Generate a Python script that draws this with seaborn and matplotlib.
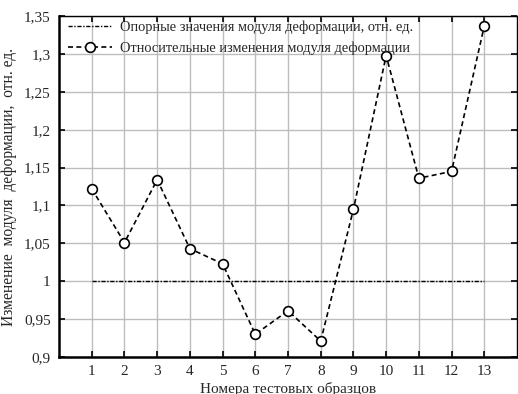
import numpy as np
import pandas as pd
import matplotlib
matplotlib.use("Agg")
import matplotlib.pyplot as plt
import seaborn as sns

# --- data ---
samples = [1, 2, 3, 4, 5, 6, 7, 8, 9, 10, 11, 12, 13]
rel_change = [1.122, 1.051, 1.134, 1.043, 1.023, 0.930, 0.961,
              0.921, 1.095, 1.298, 1.136, 1.145, 1.337]
reference = [1.0] * len(samples)
y_ticks = [0.9, 0.95, 1.0, 1.05, 1.1, 1.15, 1.2, 1.25, 1.3, 1.35]
y_tick_labels = ["0,9", "0,95", "1", "1,05", "1,1", "1,15", "1,2", "1,25", "1,3", "1,35"]

df = pd.DataFrame({"sample": samples, "rel": rel_change, "ref": reference})

sns.set_theme(style="white")
plt.rcParams['font.family'] = ['Liberation Serif', 'DejaVu Serif']

fig = plt.figure(figsize=(5.18, 3.94), dpi=100)
ax = fig.add_axes([0.114, 0.094, 0.884, 0.865])

sns.lineplot(data=df, x="sample", y="ref", ax=ax, color="black", lw=1.0,
             linestyle=(0, (3, 1.2, 1, 1.2)),
             label="Опорные значения модуля деформации, отн. ед.")
sns.lineplot(data=df, x="sample", y="rel", ax=ax, color="black", lw=1.2,
             linestyle=(0, (3, 2)), marker="o", markersize=7,
             markerfacecolor="white", markeredgecolor="black", markeredgewidth=1.2,
             label="Относительные изменения модуля деформации")

ax.set_xlim(0, 14)
ax.set_ylim(0.9, 1.35)
ax.set_xticks(samples)
ax.set_xticklabels([str(s) for s in samples], fontsize=11)
ax.set_yticks(y_ticks)
ax.set_yticklabels(y_tick_labels, fontsize=11)
ax.grid(True, color="#bdbdbd", lw=1.0)
ax.tick_params(direction="in", length=4, width=1.2, top=True, right=True,
               left=True, bottom=True, color="black", pad=6)

for side in ["left", "bottom"]:
    ax.spines[side].set_linewidth(1.8)
for side in ["top", "right"]:
    ax.spines[side].set_linewidth(1.0)
for s in ax.spines.values():
    s.set_color("black")

ax.set_xlabel("Номера тестовых образцов", fontsize=11, labelpad=3)
ax.set_ylabel("Изменение  модуля  деформации,  отн. ед.", fontsize=11.2, labelpad=5)

leg = ax.legend(loc="upper left", bbox_to_anchor=(0.011, 1.0), frameon=False,
                fontsize=10.4, handlelength=3.0, handletextpad=0.55,
                borderaxespad=0.1, borderpad=0.2, labelspacing=0.55)

fig.savefig("out.png", dpi=100)
